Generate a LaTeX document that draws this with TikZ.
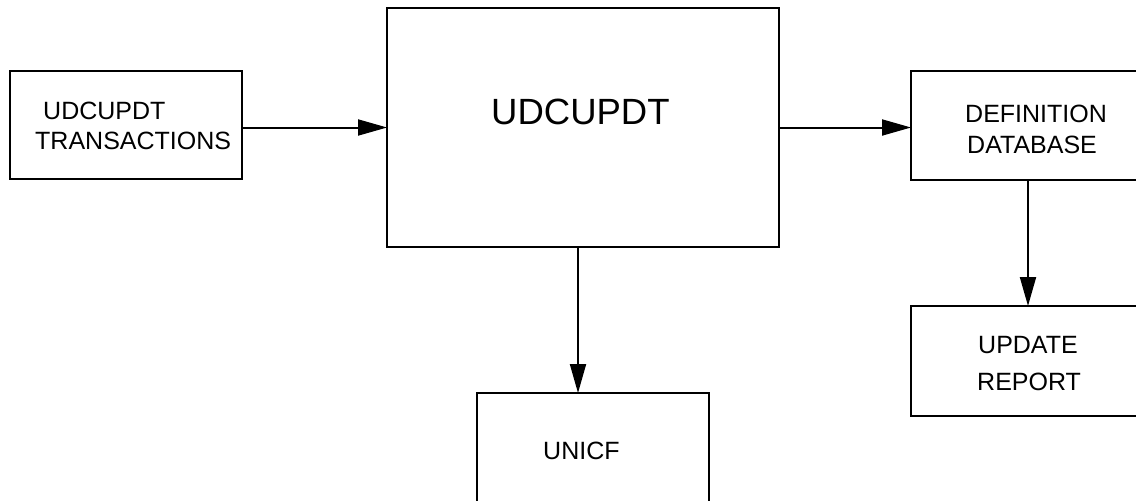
\documentclass[tikz,border=0pt]{standalone}
\usepackage{fontspec}
\setmainfont{Liberation Sans}
\usetikzlibrary{arrows.meta}
\begin{document}
\begin{tikzpicture}[x=1pt, y=-1pt,
  box/.style={draw, line width=2pt, minimum width=#1, inner sep=0pt, outer sep=0pt},
  lbl/.style={anchor=base west, inner sep=0pt, font=\fontsize{25pt}{30pt}\selectfont},
  biglbl/.style={anchor=base west, inner sep=0pt, font=\fontsize{36.5pt}{44pt}\selectfont},
  flow/.style={line width=2pt, -{Triangle[length=29pt, width=16pt]}}]
  \useasboundingbox (0,0) rectangle (1136,501);
  \clip (0,0) rectangle (1136,501);

  % boxes
  \node[box=232pt, minimum height=108pt] (trans) at (126,125) {};
  \node[box=392pt, minimum height=239pt] (prog)  at (583,127.5) {};
  \node[box=234pt, minimum height=109pt] (defdb) at (1028,125.5) {};
  \node[box=234pt, minimum height=110pt] (rep)   at (1028,361) {};
  \node[box=232pt, minimum height=110pt] (unicf) at (593,448) {};

  % labels
  \node[lbl] (t1) at (43,119) {UDCUPDT};
  \node[lbl] (t2) at (35,149) {TRANSACTIONS};
  \node[biglbl] (p1) at (491,124) {UDCUPDT};
  \node[lbl] (d1) at (965,122) {DEFINITION};
  \node[lbl] (d2) at (967,153) {DATABASE};
  \node[lbl] (r1) at (978,353) {UPDATE};
  \node[lbl] (r2) at (977,390) {REPORT};
  \node[lbl] (u1) at (543,459) {UNICF};

  % data flow
  \draw[flow] (trans.east |- prog.west) -- (prog.west);
  \draw[flow] (prog.east) -- (prog.east -| defdb.west);
  \draw[flow] ([xshift=-5pt]prog.south) -- ([xshift=-5pt]prog.south |- unicf.north);
  \draw[flow] (defdb.south) -- (rep.north);
\end{tikzpicture}
\end{document}
